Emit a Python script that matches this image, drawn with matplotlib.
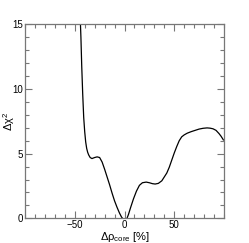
import matplotlib
matplotlib.use("Agg")
import matplotlib.pyplot as plt
from matplotlib.ticker import MultipleLocator, FixedLocator

plt.rcParams['font.family'] = ['Liberation Sans', 'DejaVu Sans']
plt.rcParams['mathtext.fontset'] = 'custom'
plt.rcParams['mathtext.rm'] = 'Liberation Sans'
plt.rcParams['mathtext.it'] = 'Liberation Sans'

# values
drho = [-44.5, -43.8, -43.0, -42.0, -41.0, -40.0, -39.0, -38.0, -37.0, -36.0, -34.5,
        -32.7, -30.0, -27.5, -25.0, -22.5, -20.0, -17.5, -15.0, -12.5, -10.0, -7.5,
        -5.0, -3.0, -1.0, 0.5, 2.0, 4.0, 6.0, 9.0, 12.0, 15.0, 18.0, 21.8, 25.0,
        28.0, 30.8, 34.0, 37.5, 40.0, 42.5, 45.0, 47.5, 50.0, 52.5, 55.0, 57.5,
        60.0, 63.0, 67.0, 71.0, 75.0, 79.0, 83.0, 86.0, 89.0, 92.0, 95.0, 97.0, 99.4]
dchi2 = [15.5, 14.0, 11.8, 9.6, 7.8, 6.7, 5.9, 5.4, 5.1, 4.9, 4.7,
         4.62, 4.7, 4.75, 4.7, 4.35, 3.8, 3.2, 2.6, 1.95, 1.35, 0.85,
         0.4, 0.1, -0.1, -0.3, -0.1, 0.3, 0.8, 1.5, 2.1, 2.55, 2.75, 2.8, 2.75,
         2.68, 2.65, 2.7, 2.9, 3.2, 3.5, 3.95, 4.5, 5.05, 5.55, 6.0, 6.3,
         6.45, 6.58, 6.7, 6.8, 6.9, 6.96, 6.99, 6.97, 6.92, 6.8, 6.55, 6.35, 6.06]
xticks = [-50, 0, 50]

fig = plt.figure(figsize=(2.49, 2.43), dpi=100)
ax = fig.add_axes([0.1004, 0.1016, 0.7992, 0.7984])
ax.plot(drho, dchi2, color='black', lw=0.9)

ax.set_xlim(-100, 100)
ax.set_ylim(0, 15)
ax.xaxis.set_major_locator(FixedLocator(xticks))
ax.xaxis.set_minor_locator(MultipleLocator(10))
ax.yaxis.set_major_locator(MultipleLocator(5))
ax.yaxis.set_minor_locator(MultipleLocator(1))
ax.tick_params(which='both', direction='in', top=True, right=True,
               color='#777777', labelsize=7, pad=1.5, width=0.8)
ax.tick_params(which='major', length=5)
ax.tick_params(which='minor', length=2.8)
for s in ax.spines.values():
    s.set_color('#777777')
    s.set_linewidth(0.9)

ax.set_xlabel('Δρ$_{\\rm core}$ [%]', fontsize=8)
ax.set_ylabel('Δχ$^2$', fontsize=8)
ax.xaxis.set_label_coords(0.5, -0.058)
ax.yaxis.set_label_coords(-0.04, 0.5)

fig.savefig('out.png', dpi=100)
